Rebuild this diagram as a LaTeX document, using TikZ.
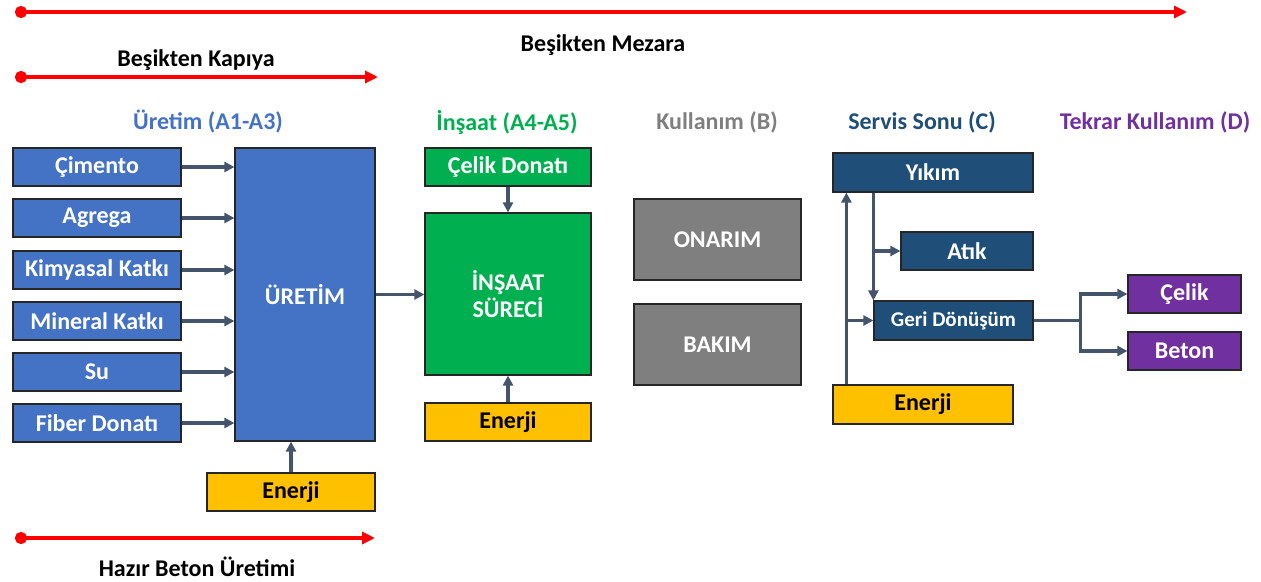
\documentclass[tikz,border=0pt]{standalone}
\usepackage{fontspec}
\setmainfont{Carlito}
\usetikzlibrary{arrows.meta}
\definecolor{uBlue}{HTML}{4472C4}
\definecolor{iGreen}{HTML}{00B050}
\definecolor{eYellow}{HTML}{FFC000}
\definecolor{kGrey}{HTML}{7F7F7F}
\definecolor{sNavy}{HTML}{1F4E79}
\definecolor{tPurple}{HTML}{7030A0}
\definecolor{connCol}{HTML}{44546A}
\definecolor{lineRed}{HTML}{FF0000}
\begin{document}
\begin{tikzpicture}[x=1pt,y=-1pt,
        box/.style={rectangle,draw=black!85,line width=1.2pt,inner sep=2pt,
            text=white,font=\fontsize{24}{27}\selectfont\bfseries,align=center},
        inbox/.style={box,fill=uBlue,minimum width=168pt,minimum height=38pt},
        enbox/.style={box,fill=eYellow,text=black,minimum height=38pt},
        navybox/.style={box,fill=sNavy,minimum height=38pt},
        purplebox/.style={box,fill=tPurple,minimum width=113pt,minimum height=38pt},
        greybox/.style={box,fill=kGrey,minimum width=167pt,minimum height=81pt},
        head/.style={font=\fontsize{24}{27}\selectfont\bfseries},
        conn/.style={draw=connCol,line width=3.2pt,-{Triangle[length=10pt,width=10pt]}},
        redline/.style={draw=lineRed,line width=4pt,
            {Circle[length=12pt]}-{Triangle[length=13pt,width=12pt]}}]
    \useasboundingbox (0,0) rectangle (1261,581);

    % life cycle spans
    \coordinate (m0) at (15,12);   \coordinate (m1) at (1187,12);
    \coordinate (k0) at (15,77);   \coordinate (k1) at (378,77);
    \coordinate (h0) at (15,538);  \coordinate (h1) at (375,538);
    \draw[redline] (m0) -- (m1);
    \draw[redline] (k0) -- (k1);
    \draw[redline] (h0) -- (h1);
    \node[head] (mezara) at (603,45) {Beşikten Mezara};
    \node[head] (kapiya) at (196,60) {Beşikten Kapıya};
    \node[head] (hazir) at (197,567) {Hazır Beton Üretimi};

    % stage titles
    \node[head,text=uBlue]   (hA) at (208,122) {Üretim (A1-A3)};
    \node[head,text=iGreen]  (hI) at (507,122) {İnşaat (A4-A5)};
    \node[head,text=kGrey]   (hB) at (717,122) {Kullanım (B)};
    \node[head,text=sNavy]   (hC) at (922,122) {Servis Sonu (C)};
    \node[head,text=tPurple] (hD) at (1155,122) {Tekrar Kullanım (D)};

    % A1-A3
    \node[inbox] (cim) at (97,167) {Çimento};
    \node[inbox] (agr) at (97,218) {Agrega};
    \node[inbox] (kim) at (97,270) {Kimyasal Katkı};
    \node[inbox] (min) at (97,321) {Mineral Katkı};
    \node[inbox] (su)  at (97,372) {Su};
    \node[inbox] (fib) at (97,423) {Fiber Donatı};
    \node[box,fill=uBlue,minimum width=140pt,minimum height=293pt] (uretim) at (305,294.5) {ÜRETİM};
    \node[enbox,minimum width=168pt] (en1) at (291,492) {Enerji};

    % A4-A5
    \node[box,fill=iGreen,minimum width=166pt,minimum height=38pt] (donati) at (508,167) {Çelik Donatı};
    \node[box,fill=iGreen,minimum width=166pt,minimum height=162pt] (insaat) at (508,294) {İNŞAAT\\SÜRECİ};
    \node[enbox,minimum width=166pt] (en2) at (508,422) {Enerji};

    % B
    \node[greybox] (onarim) at (717.5,239.5) {ONARIM};
    \node[greybox] (bakim)  at (717.5,344.5) {BAKIM};

    % C
    \node[navybox,minimum width=200pt,minimum height=39pt] (yikim) at (933,172.5) {Yıkım};
    \node[navybox,minimum width=132pt] (atik) at (967,251) {Atık};
    \node[navybox,minimum width=159pt,minimum height=39pt,
        font=\fontsize{21}{23}\selectfont\bfseries] (geri) at (953.5,320.5) {Geri Dönüşüm};
    \node[enbox,minimum width=180pt,minimum height=39pt] (en3) at (923,404.5) {Enerji};

    % D
    \node[purplebox] (celik) at (1184.5,294) {Çelik};
    \node[purplebox] (beton) at (1184.5,351) {Beton};

    \foreach \n in {cim,agr,kim,min,su,fib}
        \draw[conn] (\n) -- (\n -| uretim.west);
    \draw[conn] (en1) -- (en1 |- uretim.south);
    \draw[conn] (uretim) -- (uretim -| insaat.west);
    \draw[conn] (donati) -- (insaat);
    \draw[conn] (en2) -- (insaat);

    \draw[conn] (yikim.south -| geri.west) -- (geri.north west);
    \draw[conn] (atik.west -| geri.west) -- (atik.west);
    \coordinate (eup) at ([xshift=14pt]en3.north west);
    \draw[conn] (eup) -- (eup |- yikim.south);
    \draw[conn] (eup |- geri.west) -- (geri.west);
    \draw[conn] (geri.east) -- ++(47,0) |- (celik.west);
    \draw[conn] (geri.east) -- ++(47,0) |- (beton.west);

\end{tikzpicture}
\end{document}
